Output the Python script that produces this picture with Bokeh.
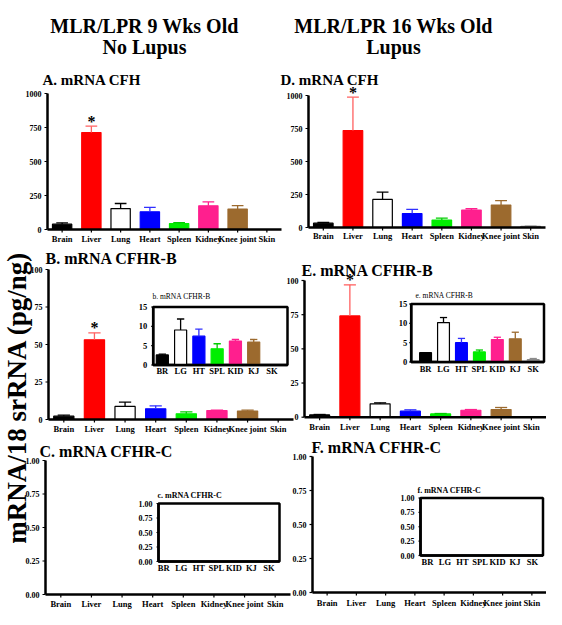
import numpy as np
from bokeh.plotting import figure
from bokeh.models import Range1d
from bokeh.core.properties import value
from bokeh.embed import file_html
from bokeh.resources import INLINE

# ---------------- data ----------------
cats = ["Brain", "Liver", "Lung", "Heart", "Spleen", "Kidney", "Knee joint", "Skin"]
inset_cats = ["BR", "LG", "HT", "SPL", "KID", "KJ", "SK"]

headers_left = ["MLR/LPR 9 Wks Old", "No Lupus"]
headers_right = ["MLR/LPR 16 Wks Old", "Lupus"]
y_label = "mRNA/18 srRNA (pg/ng)"

titles = {"A": "A. mRNA CFH", "B": "B. mRNA CFHR-B", "C": "C. mRNA CFHR-C",
          "D": "D. mRNA CFH", "E": "E. mRNA CFHR-B", "F": "F. mRNA CFHR-C",
          "b": "b. mRNA CFHR-B", "c": "c. mRNA CFHR-C",
          "e": "e. mRNA CFHR-B", "f": "f. mRNA CFHR-C"}

cfh_9wk = [39, 713, 154, 130, 44, 174, 150, 0]
cfh_9wk_err = [10, 47, 37, 32, 7, 29, 26, 0]
cfh_16wk = [33, 734, 213, 106, 56, 132, 170, 8]
cfh_16wk_err = [5, 253, 55, 31, 15, 10, 33, 2]

cfhrb_9wk = [2.2, 53.1, 8.7, 7.1, 3.8, 6.0, 5.6, 0]
cfhrb_9wk_err = [0.7, 4.7, 2.9, 2.0, 1.3, 0.3, 0.6, 0]
cfhrb_16wk = [1.7, 74.1, 9.8, 4.4, 2.4, 5.1, 5.6, 0.3]
cfhrb_16wk_err = [0.3, 22.7, 0.7, 1.0, 0.3, 0.5, 1.5, 0.1]

cfhrb_9wk_inset = [2.6, 9.05, 7.45, 4.2, 6.2, 5.95, 0]
cfhrb_9wk_inset_err = [0.2, 2.85, 1.85, 1.3, 0.4, 0.65, 0]
cfhrb_16wk_inset = [2.4, 10.2, 5.0, 2.6, 5.8, 6.0, 0.6]
cfhrb_16wk_inset_err = [0, 1.3, 1.1, 0.5, 0.6, 1.7, 0.3]

cfhrc_9wk = [0, 0, 0, 0, 0, 0, 0, 0]
cfhrc_16wk = [0, 0, 0, 0, 0, 0, 0, 0]
cfhrc_9wk_inset = [0, 0, 0, 0, 0, 0, 0]
cfhrc_16wk_inset = [0, 0, 0, 0, 0, 0, 0]

significant = ["Liver"]

cfh_ticks = [0, 250, 500, 750, 1000]
cfhrb_ticks = [0, 25, 50, 75, 100]
cfhrc_ticks = [0, 0.25, 0.5, 0.75, 1.0]
cfhrc_tick_labels = ["0.00", "0.25", "0.50", "0.75", "1.00"]
inset_b_ticks = [0, 5, 10, 15]

# ---------------- styles ----------------
bar_fill = ["#000000", "#ff0000", "#ffffff", "#0000ff", "#00ee00", "#ff1f8e", "#9c6a2e", "#8c8c8c"]
bar_line = ["#000000", "#ff0000", "#000000", "#0000ff", "#00ee00", "#ff1f8e", "#9c6a2e", "#8c8c8c"]
err_col = ["#000000", "#ff6060", "#000000", "#3030ff", "#00cc00", "#ff1f8e", "#9c6a2e", "#8c8c8c"]
inset_sel = [0, 2, 3, 4, 5, 6, 7]
FONT = value("Liberation Serif")

W, H = 546, 609
p = figure(width=W, height=H, x_range=Range1d(0, W), y_range=Range1d(-H, 0),
           output_backend="svg", toolbar_location=None, min_border=0,
           x_axis_type=None, y_axis_type=None, outline_line_color=None)
p.background_fill_color = "white"
p.border_fill_color = "white"


def txt(target, x, y, text, size, bold=True, align="left", baseline="middle", **kw):
    target.text(x=x, y=y, text=text, text_font=FONT, text_font_size=size,
                text_font_style="bold" if bold else "normal", text_color="black",
                text_align=align, text_baseline=baseline, **kw)


def draw(xs, xp, ys, yp, labels, vals, errs, fills, lines, ecols, ticks, tick_labels,
         tick_dx, lab_dy, axis_w=2.5, box=False, bar_w=0.66, cap=0.2, tick_size="8px",
         cat_size="8.5px", tick_len=3):
    sp = p.subplot(x_source=Range1d(*xs), y_source=Range1d(*ys),
                   x_target=Range1d(xp[0], xp[1]), y_target=Range1d(-yp[0], -yp[1]))
    kx = (xp[1] - xp[0]) / (xs[1] - xs[0])
    ky = (yp[0] - yp[1]) / (ys[1] - ys[0])
    idx = np.arange(len(labels), dtype=float)
    vals = np.asarray(vals, dtype=float)
    if box:
        sp.quad(left=[xs[0]], right=[xs[1]], bottom=[ys[0]], top=[ys[1]],
                fill_color="white", line_color="black", line_width=axis_w)
    sp.vbar(x=idx, top=vals, width=bar_w, fill_color=fills, line_color=lines, line_width=1.2)
    if errs is not None:
        errs = np.asarray(errs, dtype=float)
        m = errs > 0
        top = vals + errs
        ec = [c for c, k in zip(ecols, m) if k]
        sp.segment(x0=idx[m], y0=vals[m], x1=idx[m], y1=top[m], line_color=ec, line_width=1.3)
        sp.segment(x0=idx[m] - cap, y0=top[m], x1=idx[m] + cap, y1=top[m], line_color=ec, line_width=1.3)
        sig = [i for i, c in enumerate(cats) if c in significant] if len(labels) == len(cats) else []
        if sig:
            txt(sp, [idx[i] for i in sig], [top[i] for i in sig], ["*"] * len(sig), "16px",
                align="center", y_offset=-5)
    # axes
    sp.segment(x0=[xs[0]], y0=[ys[0]], x1=[xs[0]], y1=[ys[1]], line_color="black", line_width=axis_w)
    sp.segment(x0=[xs[0]], y0=[ys[0]], x1=[xs[1]], y1=[ys[0]], line_color="black", line_width=axis_w)
    sp.segment(x0=[xs[0]] * len(ticks), y0=ticks, x1=[xs[0] - tick_len / kx] * len(ticks), y1=ticks,
               line_color="black", line_width=1.2)
    txt(sp, [xs[0]] * len(ticks), ticks, tick_labels, tick_size, align="right", x_offset=tick_dx)
    if not box:
        sp.segment(x0=idx, y0=[ys[0]] * len(idx), x1=idx, y1=[ys[0] - tick_len / ky] * len(idx),
                   line_color="black", line_width=1.2)
    txt(sp, idx, [ys[0]] * len(idx), labels, cat_size, align="center", y_offset=lab_dy)
    return sp


ins_fill = [bar_fill[i] for i in inset_sel]
ins_line = [bar_line[i] for i in inset_sel]
ins_err = [err_col[i] for i in inset_sel]
main_xs = (-0.5, len(cats) - 0.5)

# A
draw(main_xs, (47, 281), (0, 1000), (229, 93), cats, cfh_9wk, cfh_9wk_err, bar_fill, bar_line, err_col,
     cfh_ticks, [str(t) for t in cfh_ticks], -6, 9)
# D
draw(main_xs, (308, 545), (0, 1000), (227, 95), cats, cfh_16wk, cfh_16wk_err, bar_fill, bar_line, err_col,
     cfh_ticks, [str(t) for t in cfh_ticks], -6, 8.5)
# B
draw(main_xs, (48, 293), (0, 100), (419, 269), cats, cfhrb_9wk, cfhrb_9wk_err, bar_fill, bar_line, err_col,
     cfhrb_ticks, [str(t) for t in cfhrb_ticks], -6, 9.5)
# E
draw(main_xs, (304, 546), (0, 100), (416.7, 280), cats, cfhrb_16wk, cfhrb_16wk_err, bar_fill, bar_line, err_col,
     cfhrb_ticks, [str(t) for t in cfhrb_ticks], -6, 10)
# C
draw(main_xs, (45, 290), (0, 1), (594, 460), cats, cfhrc_9wk, None, bar_fill, bar_line, err_col,
     cfhrc_ticks, cfhrc_tick_labels, -6, 9.5)
# F
draw(main_xs, (312, 546), (0, 1), (592, 456), cats, cfhrc_16wk, None, bar_fill, bar_line, err_col,
     cfhrc_ticks, cfhrc_tick_labels, -6, 10)

# insets
draw((-0.5, 6.85), (152.7, 287), (0, 15), (364.5, 306.5), inset_cats, cfhrb_9wk_inset, cfhrb_9wk_inset_err,
     ins_fill, ins_line, ins_err, inset_b_ticks, [str(t) for t in inset_b_ticks], -6, 5.5, box=True,
     tick_size="8.5px", tick_len=2)
draw((-0.8, 6.6), (410.7, 543.5), (0, 15), (361.5, 303.5), inset_cats, cfhrb_16wk_inset, cfhrb_16wk_inset_err,
     ins_fill, ins_line, ins_err, inset_b_ticks, [str(t) for t in inset_b_ticks], -4, 6.5, box=True,
     tick_size="8.5px", tick_len=2)
draw((-0.3, 6.6), (158, 279), (0, 1), (561, 503), inset_cats, cfhrc_9wk_inset, None,
     ins_fill, ins_line, ins_err, cfhrc_ticks, cfhrc_tick_labels, -6, 6, box=True, tick_len=2)
draw((-0.4, 6.6), (420, 542.5), (0, 1), (555, 497.5), inset_cats, cfhrc_16wk_inset, None,
     ins_fill, ins_line, ins_err, cfhrc_ticks, cfhrc_tick_labels, -6, 6.5, box=True, tick_len=2)

# panel titles (vertical centres)
txt(p, [42, 280], [-79.5, -79.5], [titles["A"], titles["D"]], "15px")
txt(p, [45, 301], [-258.3, -269.7], [titles["B"], titles["E"]], "16px")
txt(p, [39, 311], [-451, -447], [titles["C"], titles["F"]], "16px")
txt(p, [152, 415], [-296, -295], [titles["b"], titles["e"]], "7.5px", bold=False)
txt(p, [157, 417], [-495, -490], [titles["c"], titles["f"]], "8px")

# column headers
txt(p, [144, 144], [-25.5, -46.5], headers_left, "20px", align="center")
txt(p, [393, 393], [-25.5, -46.5], headers_right, "20px", align="center")

# shared y label
txt(p, [16], [-397], [y_label], "27px", align="center", angle=np.pi / 2)

open("out.html", "w").write(file_html(p, INLINE))
